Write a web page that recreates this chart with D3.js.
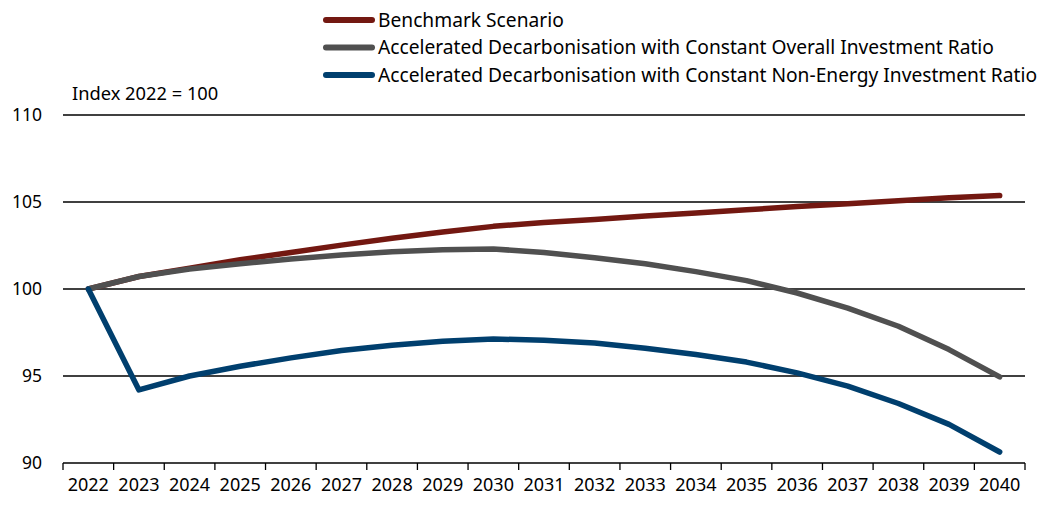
<!DOCTYPE html>
<html>
<head>
<meta charset="utf-8">
<script src="https://cdn.jsdelivr.net/npm/d3@7"></script>
<style>
  body { margin: 0; background: #fff; }
  text { font-family: "Noto Sans", sans-serif; fill: #000; }
</style>
</head>
<body>
<div id="chart"></div>
<script>
// years on the x axis
var years = d3.range(2022, 2041);

// index values, 2022 = 100
var benchmark = [100, 100.72, 101.2, 101.68, 102.1, 102.52, 102.92, 103.27, 103.6, 103.82, 104.0, 104.2, 104.37, 104.55, 104.74, 104.9, 105.07, 105.24, 105.37];
var overallRatio = [100, 100.72, 101.15, 101.45, 101.72, 101.95, 102.14, 102.25, 102.3, 102.1, 101.8, 101.45, 101.0, 100.48, 99.77, 98.9, 97.86, 96.52, 94.95];
var nonEnergyRatio = [100, 94.2, 95.0, 95.56, 96.04, 96.46, 96.77, 97.0, 97.13, 97.05, 96.9, 96.6, 96.23, 95.8, 95.18, 94.42, 93.42, 92.22, 90.63];

var seriesNames = [
  "Benchmark Scenario",
  "Accelerated Decarbonisation with Constant Overall Investment Ratio",
  "Accelerated Decarbonisation with Constant Non-Energy Investment Ratio"
];
var seriesColors = ["#731811", "#505050", "#003f6e"];
var yTicks = [90, 95, 100, 105, 110];

var series = [benchmark, overallRatio, nonEnergyRatio].map(function(vals, i){
  return { name: seriesNames[i], color: seriesColors[i], values: vals };
});

var width = 1043, height = 505;
var margin = {top: 115, right: 18, bottom: 42, left: 63};

var svg = d3.select("#chart").append("svg")
    .attr("width", width)
    .attr("height", height);

var x = d3.scaleBand()
    .domain(years)
    .range([margin.left, width - margin.right])
    .padding(0);

var y = d3.scaleLinear()
    .domain([90, 110])
    .range([height - margin.bottom, margin.top]);

// gridlines
svg.append("g").selectAll("line")
    .data(yTicks.filter(d => d > 90))
    .enter().append("line")
    .attr("x1", margin.left)
    .attr("x2", width - margin.right)
    .attr("y1", d => y(d))
    .attr("y2", d => y(d))
    .attr("stroke", "#000")
    .attr("stroke-width", 1.3);

// y labels
svg.append("g").selectAll("text")
    .data(yTicks)
    .enter().append("text")
    .attr("x", 42)
    .attr("y", d => y(d))
    .attr("dy", "0.35em")
    .attr("text-anchor", "end")
    .attr("font-size", 17.5)
    .text(d => d);

// x axis line + ticks at band edges
var xAxis = svg.append("g");
xAxis.append("line")
    .attr("x1", margin.left)
    .attr("x2", width - margin.right)
    .attr("y1", y(90))
    .attr("y2", y(90))
    .attr("stroke", "#000")
    .attr("stroke-width", 1.5);

var edges = years.map(d => x(d)).concat([x.range()[1]]);
xAxis.selectAll(".tick")
    .data(edges)
    .enter().append("line")
    .attr("class", "tick")
    .attr("x1", d => d)
    .attr("x2", d => d)
    .attr("y1", y(90))
    .attr("y2", y(90) + 7)
    .attr("stroke", "#000")
    .attr("stroke-width", 1.3);

xAxis.selectAll("text")
    .data(years)
    .enter().append("text")
    .attr("x", d => x(d) + x.bandwidth() / 2)
    .attr("y", y(90) + 28)
    .attr("text-anchor", "middle")
    .attr("font-size", 18)
    .text(d => d);

// unit label
svg.append("text")
    .attr("x", 72)
    .attr("y", 100)
    .attr("font-size", 18.3)
    .text("Index 2022 = 100");

// lines
var line = d3.line()
    .x((d, i) => x(years[i]) + x.bandwidth() / 2)
    .y(d => y(d));

svg.append("g").selectAll("path")
    .data(series)
    .enter().append("path")
    .attr("d", d => line(d.values))
    .attr("fill", "none")
    .attr("stroke", d => d.color)
    .attr("stroke-width", 5.5)
    .attr("stroke-linecap", "round")
    .attr("stroke-linejoin", "round");

// legend
var legend = svg.append("g").selectAll("g")
    .data(series)
    .enter().append("g")
    .attr("transform", (d, i) => "translate(0," + (20 + i * 27.5) + ")");

legend.append("line")
    .attr("x1", 326)
    .attr("x2", 372)
    .attr("stroke", d => d.color)
    .attr("stroke-width", 6)
    .attr("stroke-linecap", "round");

legend.append("text")
    .attr("x", 378)
    .attr("dy", "0.35em")
    .attr("font-size", 19.2)
    .text(d => d.name);
</script>
</body>
</html>
